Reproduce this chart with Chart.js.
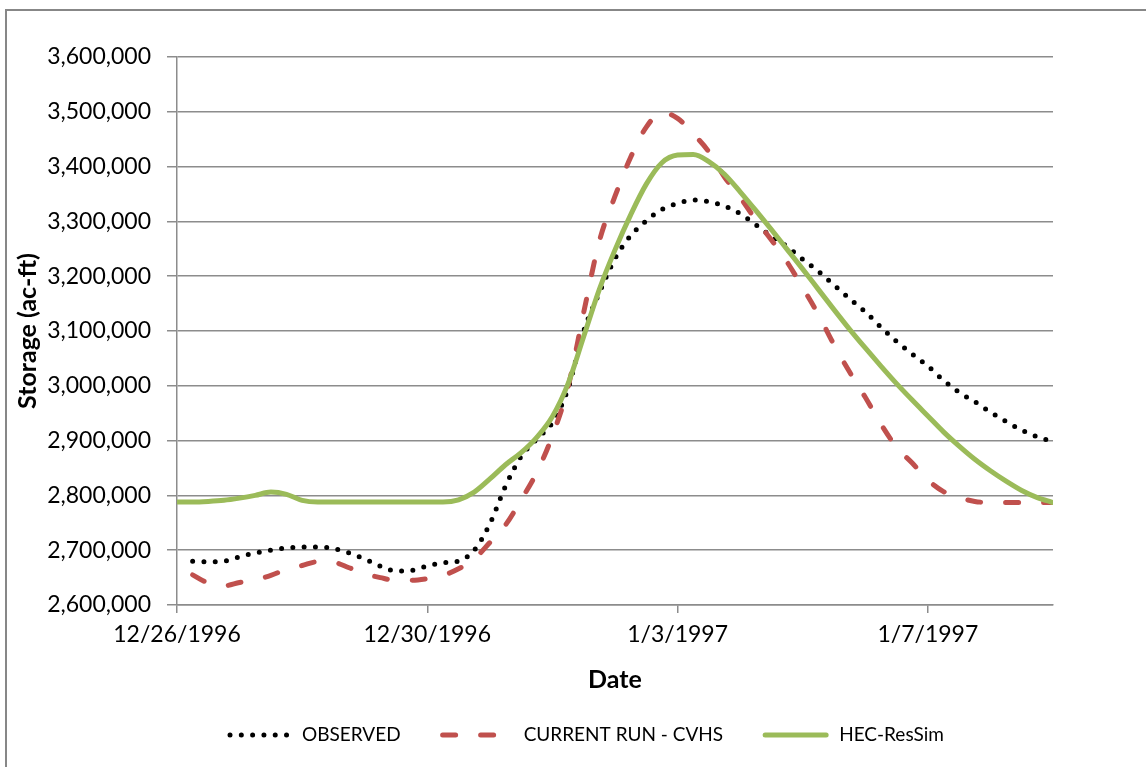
<!DOCTYPE html>
<html>
<head>
<meta charset="utf-8">
<script src="https://cdn.jsdelivr.net/npm/chart.js@4/dist/chart.umd.min.js"></script>
<style>
  html, body { margin: 0; padding: 0; background: #fff; }
  #wrap { width: 1146px; height: 767px; position: relative; }
</style>
</head>
<body>
<div id="wrap"><canvas id="c" width="1146" height="767"></canvas></div>
<script>
// hours after 12/26/1996 00:00, one reading every 6 hours
const hours = [0, 6, 12, 18, 24, 30, 36, 42, 48, 54, 60, 66, 72, 78, 84, 90, 96, 102, 108, 114,
  120, 126, 132, 138, 144, 150, 156, 162, 168, 174, 180, 186, 192, 198, 204, 210, 216, 222, 228, 234,
  240, 246, 252, 258, 264, 270, 276, 282, 288, 294, 300, 306, 312, 318, 324, 330, 336];

const observed = [null, 2680000, 2679000, 2680000, 2688000, 2695000, 2700000, 2704000, 2706000, 2706000,
  2703000, 2695000, 2684000, 2671000, 2662000, 2663000, 2671000, 2677000, 2680000, 2700000,
  2748000, 2817000, 2871000, 2903000, 2933000, 2995000, 3100000, 3170000, 3232000, 3274000,
  3301000, 3322000, 3333000, 3339000, 3336000, 3328000, 3314000, 3294000, 3273000, 3254000,
  3231000, 3209000, 3184000, 3159000, 3135000, 3107000, 3081000, 3058000, 3036000, 3010000,
  2988000, 2971000, 2952000, 2935000, 2919000, 2907000, 2898000];

const currentRun = [null, 2655000, 2640000, 2635000, 2641000, 2646000, 2654000, 2665000, 2672000, 2679000,
  2678000, 2668000, 2657000, 2650000, 2645000, 2645000, 2648000, 2654000, 2666000, 2684000,
  2714000, 2746000, 2792000, 2842000, 2909000, 2998000, 3134000, 3264000, 3346000, 3417000,
  3472000, 3499000, 3488000, 3460000, 3427000, 3381000, 3344000, 3303000, 3266000, 3226000,
  3179000, 3130000, 3075000, 3025000, 2979000, 2930000, 2888000, 2859000, 2828000, 2807000,
  2796000, 2789000, 2787000, 2787000, 2787000, 2787000, 2787000];

const hecResSim = [2788000, 2788000, 2789000, 2791000, 2795000, 2800000, 2806000, 2802000, 2791000, 2788000,
  2788000, 2788000, 2788000, 2788000, 2788000, 2788000, 2788000, 2788000, 2792000, 2806000,
  2830000, 2856000, 2878000, 2906000, 2944000, 3004000, 3090000, 3176000, 3248000, 3312000,
  3368000, 3407000, 3421000, 3422000, 3409000, 3386000, 3354000, 3320000, 3285000, 3249000,
  3213000, 3176000, 3139000, 3103000, 3069000, 3036000, 3004000, 2974000, 2945000, 2916000,
  2890000, 2866000, 2845000, 2826000, 2809000, 2796000, 2787000];

const tickHours = [0, 96, 192, 288];
const tickLabels = ['12/26/1996', '12/30/1996', '1/3/1997', '1/7/1997'];

const seriesNames = ['OBSERVED', 'CURRENT RUN - CVHS', 'HEC-ResSim'];

function pts(vals) {
  return hours.map((h, i) => ({ x: h, y: vals[i] }));
}

// frame + hand drawn legend (chart.js point-style legend drops the dash pattern)
const frame = {
  id: 'frame',
  beforeDraw(chart) {
    const ctx = chart.ctx;
    ctx.save();
    ctx.fillStyle = '#fff';
    ctx.fillRect(0, 0, chart.width, chart.height);
    ctx.strokeStyle = '#878787';
    ctx.lineWidth = 2;
    ctx.strokeRect(6, 10, 1400, 1000);
    ctx.restore();
  },
  afterDraw(chart) {
    const ctx = chart.ctx;
    const sampleLen = [63, 72, 65];
    const textGap = 11, itemGap = 40, y = 735;
    ctx.save();
    ctx.font = '19px Lato';
    const widths = chart.data.datasets.map((d, i) => sampleLen[i] + textGap + ctx.measureText(d.label).width);
    const total = widths.reduce((a, b) => a + b, 0) + itemGap * (widths.length - 1);
    let x = 586 - total / 2;
    chart.data.datasets.forEach((d, i) => {
      ctx.beginPath();
      ctx.strokeStyle = d.borderColor;
      ctx.lineWidth = d.borderWidth;
      ctx.lineCap = 'round';
      ctx.setLineDash(d.borderDash || []);
      ctx.moveTo(x + 2, y);
      ctx.lineTo(x + sampleLen[i] - 2, y);
      ctx.stroke();
      ctx.setLineDash([]);
      ctx.fillStyle = '#000';
      ctx.textAlign = 'left';
      ctx.textBaseline = 'middle';
      ctx.fillText(d.label, x + sampleLen[i] + textGap, y);
      x += widths[i] + itemGap;
    });
    ctx.restore();
  }
};

const gridGray = '#8c8c8c';

new Chart(document.getElementById('c'), {
  type: 'line',
  data: {
    datasets: [
      {
        label: seriesNames[0],
        data: pts(observed),
        borderColor: '#000000',
        backgroundColor: '#000000',
        borderWidth: 5,
        borderDash: [0, 11.3],
        borderCapStyle: 'round',
        pointRadius: 0,
        cubicInterpolationMode: 'monotone',
        order: 2
      },
      {
        label: seriesNames[1],
        data: pts(currentRun),
        borderColor: '#c0504d',
        backgroundColor: '#c0504d',
        borderWidth: 5,
        borderDash: [13, 25],
        borderCapStyle: 'round',
        pointRadius: 0,
        cubicInterpolationMode: 'monotone',
        order: 1
      },
      {
        label: seriesNames[2],
        data: pts(hecResSim),
        borderColor: '#9bbb59',
        backgroundColor: '#9bbb59',
        borderWidth: 5,
        borderCapStyle: 'round',
        pointRadius: 0,
        cubicInterpolationMode: 'monotone',
        order: 0
      }
    ]
  },
  options: {
    responsive: false,
    animation: false,
    layout: { padding: { left: 0, right: 93, top: 57, bottom: 82 } },
    plugins: {
      tooltip: { enabled: false },
      legend: { display: false }
    },
    scales: {
      x: {
        type: 'linear',
        min: 0,
        max: 336,
        afterBuildTicks: s => { s.ticks = tickHours.map(v => ({ value: v })); },
        afterFit: s => { s.height = 80; },
        grid: { display: true, drawOnChartArea: false, drawTicks: true, tickLength: 8, color: gridGray, lineWidth: 1.5 },
        border: { display: true, color: gridGray, width: 1.5 },
        ticks: {
          color: '#000',
          font: { family: 'Lato', size: 23 },
          padding: 8,
          maxRotation: 0,
          callback: v => tickLabels[tickHours.indexOf(v)]
        },
        title: {
          display: true,
          text: 'Date',
          color: '#000',
          font: { family: 'Lato', size: 25, weight: 'bold' },
          padding: { top: 0, bottom: -10 }
        }
      },
      y: {
        min: 2600000,
        max: 3600000,
        afterFit: s => { s.width = 177; },
        grid: { color: gridGray, lineWidth: 1.5, drawTicks: true, tickLength: 10 },
        border: { display: true, color: gridGray, width: 1.5 },
        ticks: {
          stepSize: 100000,
          color: '#000',
          font: { family: 'Lato', size: 23 },
          padding: 16,
          callback: v => v.toLocaleString('en-US')
        },
        title: {
          display: true,
          text: 'Storage (ac-ft)',
          color: '#000',
          font: { family: 'Lato', size: 25, weight: 'bold' },
          padding: { top: 13, bottom: 0 }
        }
      }
    }
  },
  plugins: [frame]
});
</script>
</body>
</html>
